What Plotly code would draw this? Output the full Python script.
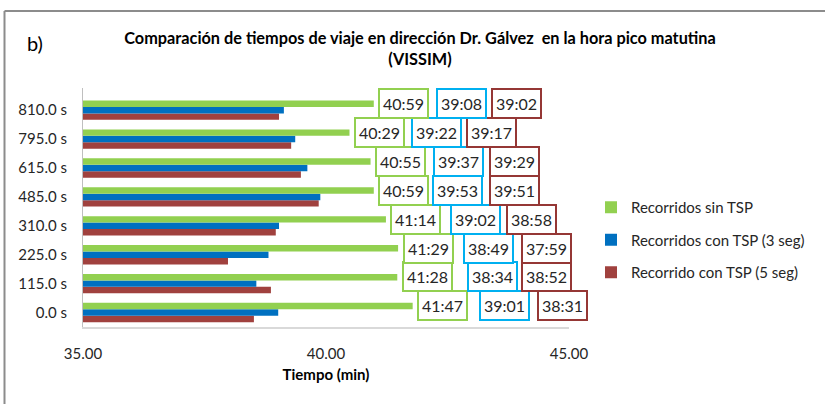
import plotly.graph_objects as go

# Travel times per signal offset, read as mm:ss
categories = ["0.0 s", "115.0 s", "225.0 s", "310.0 s", "485.0 s", "615.0 s", "795.0 s", "810.0 s"]
sin_tsp = ["41:47", "41:28", "41:29", "41:14", "40:59", "40:55", "40:29", "40:59"]
tsp_3seg = ["39:01", "38:34", "38:49", "39:02", "39:53", "39:37", "39:22", "39:08"]
tsp_5seg = ["38:31", "38:52", "37:59", "38:58", "39:51", "39:29", "39:17", "39:02"]

series_names = ["Recorridos sin TSP", "Recorridos con TSP (3 seg)", "Recorrido con TSP (5 seg)"]
x_ticks = [35, 40, 45]

# Styling
GREEN, BLUE, RED = "#92D050", "#0070C0", "#A0413E"
GREEN_EDGE, BLUE_EDGE, RED_EDGE = "#92D050", "#00B0F0", "#953735"
FONT = "Lato, 'Open Sans', sans-serif"
TXT = "#262626"

# page size and plot-area box in pixels (left, right, top, bottom)
W, H = 825, 404
PL, PR, PT, PB = 83, 569, 88, 327
PH = PB - PT

# extra pixel gaps between the stacked value boxes on each row
gap_blue = [11, 14, 9, 9, 3, 7, 6, 7]
gap_red = [7, 3, 7, 5, 6, 5, 4, 4]


def to_minutes(s):
    m, sec = s.split(":")
    return int(m) + int(sec) / 60.0


def px_x(x):
    return x / W


def px_y(y):
    return 1 - y / H


g_vals = [to_minutes(s) for s in sin_tsp]
b_vals = [to_minutes(s) for s in tsp_3seg]
r_vals = [to_minutes(s) for s in tsp_5seg]

fig = go.Figure()
# added bottom-to-top so the green bar sits on top of each group
fig.add_trace(go.Bar(y=categories, x=r_vals, orientation="h", name=series_names[2],
                     marker=dict(color=RED, line=dict(width=0)), legendgroup="c", legendrank=3))
fig.add_trace(go.Bar(y=categories, x=b_vals, orientation="h", name=series_names[1],
                     marker=dict(color=BLUE, line=dict(width=0)), legendgroup="b", legendrank=2))
fig.add_trace(go.Bar(y=categories, x=g_vals, orientation="h", name=series_names[0],
                     marker=dict(color=GREEN, line=dict(width=0)), legendgroup="a", legendrank=1))

BOX_W = 51
BAR_GAP = 0.33
row_px = PH / len(categories)
bar_px = row_px * (1 - BAR_GAP) / 3
green_shift = bar_px  # centre of the top (green) bar relative to the category centre

annotations = []
for i, cat in enumerate(categories):
    x0 = g_vals[i]
    offs = [4.5, 4.5 + BOX_W + gap_blue[i], 4.5 + 2 * BOX_W + gap_blue[i] + gap_red[i]]
    for txt, edge, off in zip([sin_tsp[i], tsp_3seg[i], tsp_5seg[i]],
                              [GREEN_EDGE, BLUE_EDGE, RED_EDGE], offs):
        annotations.append(dict(
            x=x0, y=cat, xref="x", yref="y", text=txt, showarrow=False,
            xanchor="left", yanchor="middle", xshift=off, yshift=green_shift,
            font=dict(family=FONT, size=16, color=TXT),
            bgcolor="white", bordercolor=edge, borderwidth=2, borderpad=2,
            width=43, height=23,
        ))

# panel tag
annotations.append(dict(
    x=px_x(25), y=px_y(43), xref="paper", yref="paper",
    text="b)", showarrow=False, xanchor="left", yanchor="middle",
    font=dict(family=FONT, size=20, color="#000000"),
))

# outer frame: top and left edges
fig.add_shape(type="line", xref="paper", yref="paper",
              x0=px_x(4.5), x1=1, y0=px_y(11), y1=px_y(11),
              line=dict(color="#8C8C8C", width=2))
fig.add_shape(type="line", xref="paper", yref="paper",
              x0=px_x(4.5), x1=px_x(4.5), y0=0, y1=px_y(11),
              line=dict(color="#8C8C8C", width=2))

fig.update_layout(
    template="none",
    width=W, height=H,
    margin=dict(l=0, r=0, t=0, b=0, pad=0, autoexpand=False),
    paper_bgcolor="white", plot_bgcolor="white",
    barmode="group", bargap=BAR_GAP, bargroupgap=0,
    showlegend=True,
    title=dict(
        text="<b>Comparación de tiempos de viaje en dirección Dr. Gálvez\u00a0 en la hora pico matutina</b><br><b>(VISSIM)</b>",
        x=420 / W, xanchor="center", y=1 - 44 / H, yanchor="top", yref="container",
        font=dict(family=FONT, size=16.3, color="#000000"), automargin=False,
    ),
    xaxis=dict(
        domain=[px_x(PL), px_x(PR)],
        range=[35, 45], tickvals=x_ticks, tickformat=".2f", automargin=False,
        showgrid=False, zeroline=False, showline=True, linecolor="#D9D9D9", linewidth=2,
        ticks="", ticklabelstandoff=12,
        tickfont=dict(family=FONT, size=15, color=TXT),
        title=dict(text="<b>Tiempo (min)</b>", font=dict(family=FONT, size=15, color="#000000"),
                   standoff=8),
    ),
    yaxis=dict(
        domain=[px_y(PB), px_y(PT)],
        categoryorder="array", categoryarray=categories, automargin=False,
        showgrid=False, zeroline=False, showline=True, linecolor="#BFBFBF", linewidth=1,
        ticks="", ticklabelstandoff=12,
        tickfont=dict(family=FONT, size=15, color=TXT),
    ),
    legend=dict(
        x=px_x(591), xanchor="left", y=px_y(191), yanchor="top",
        traceorder="grouped", tracegroupgap=10,
        font=dict(family=FONT, size=15, color=TXT),
        bgcolor="rgba(0,0,0,0)", borderwidth=0,
    ),
    annotations=annotations,
)

fig.write_html("out.html")
